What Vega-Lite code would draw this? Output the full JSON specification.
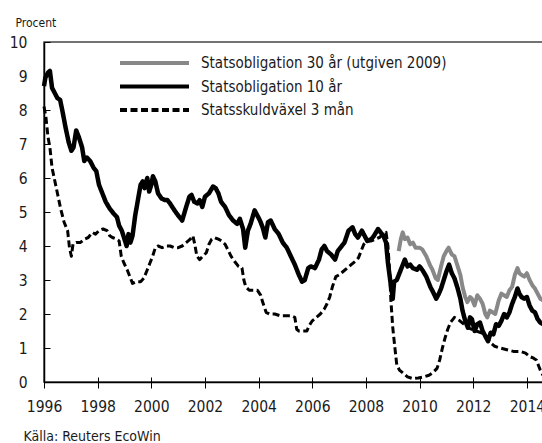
{
  "$schema": "https://vega.github.io/schema/vega-lite/v6.json",
  "width": 499,
  "height": 340,
  "autosize": {"type": "none"},
  "padding": {"left": 44, "top": 42, "right": 0, "bottom": 61},
  "background": "white",
  "config": {
    "font": "DejaVu Sans Condensed",
    "view": {"stroke": "#444", "strokeWidth": 1.5},
    "axis": {"grid": false, "domainColor": "#000", "domainWidth": 1.5, "tickColor": "#000", "tickWidth": 1, "labelColor": "#1a1a1a", "titleColor": "#1a1a1a", "labelFontSize": 15.5, "titleFontWeight": "normal"}
  },
  "datasets": {
    "rates": [
      {"series": "Statsobligation 10 år", "year": 1996.0, "rate": 8.7},
      {"series": "Statsobligation 10 år", "year": 1996.05, "rate": 8.95},
      {"series": "Statsobligation 10 år", "year": 1996.15, "rate": 9.1},
      {"series": "Statsobligation 10 år", "year": 1996.22, "rate": 9.15},
      {"series": "Statsobligation 10 år", "year": 1996.3, "rate": 8.65},
      {"series": "Statsobligation 10 år", "year": 1996.4, "rate": 8.5},
      {"series": "Statsobligation 10 år", "year": 1996.5, "rate": 8.35},
      {"series": "Statsobligation 10 år", "year": 1996.6, "rate": 8.3},
      {"series": "Statsobligation 10 år", "year": 1996.68, "rate": 8.0},
      {"series": "Statsobligation 10 år", "year": 1996.8, "rate": 7.5},
      {"series": "Statsobligation 10 år", "year": 1996.92, "rate": 7.05},
      {"series": "Statsobligation 10 år", "year": 1997.02, "rate": 6.8},
      {"series": "Statsobligation 10 år", "year": 1997.1, "rate": 6.9},
      {"series": "Statsobligation 10 år", "year": 1997.2, "rate": 7.4},
      {"series": "Statsobligation 10 år", "year": 1997.3, "rate": 7.2},
      {"series": "Statsobligation 10 år", "year": 1997.42, "rate": 6.9},
      {"series": "Statsobligation 10 år", "year": 1997.5, "rate": 6.5},
      {"series": "Statsobligation 10 år", "year": 1997.6, "rate": 6.6},
      {"series": "Statsobligation 10 år", "year": 1997.72, "rate": 6.5},
      {"series": "Statsobligation 10 år", "year": 1997.85, "rate": 6.3},
      {"series": "Statsobligation 10 år", "year": 1997.95, "rate": 6.2},
      {"series": "Statsobligation 10 år", "year": 1998.05, "rate": 5.8},
      {"series": "Statsobligation 10 år", "year": 1998.15, "rate": 5.6},
      {"series": "Statsobligation 10 år", "year": 1998.3, "rate": 5.3},
      {"series": "Statsobligation 10 år", "year": 1998.45, "rate": 5.1},
      {"series": "Statsobligation 10 år", "year": 1998.6, "rate": 4.95},
      {"series": "Statsobligation 10 år", "year": 1998.72, "rate": 4.85},
      {"series": "Statsobligation 10 år", "year": 1998.8, "rate": 4.6},
      {"series": "Statsobligation 10 år", "year": 1998.9, "rate": 4.45},
      {"series": "Statsobligation 10 år", "year": 1999.0, "rate": 4.2},
      {"series": "Statsobligation 10 år", "year": 1999.08, "rate": 4.0},
      {"series": "Statsobligation 10 år", "year": 1999.15, "rate": 4.35},
      {"series": "Statsobligation 10 år", "year": 1999.22, "rate": 4.1},
      {"series": "Statsobligation 10 år", "year": 1999.3, "rate": 4.3},
      {"series": "Statsobligation 10 år", "year": 1999.4, "rate": 4.9},
      {"series": "Statsobligation 10 år", "year": 1999.5, "rate": 5.35},
      {"series": "Statsobligation 10 år", "year": 1999.6, "rate": 5.8},
      {"series": "Statsobligation 10 år", "year": 1999.68, "rate": 5.9},
      {"series": "Statsobligation 10 år", "year": 1999.75, "rate": 5.7},
      {"series": "Statsobligation 10 år", "year": 1999.85, "rate": 6.0},
      {"series": "Statsobligation 10 år", "year": 1999.92, "rate": 5.6},
      {"series": "Statsobligation 10 år", "year": 2000.0, "rate": 5.8},
      {"series": "Statsobligation 10 år", "year": 2000.06, "rate": 6.05},
      {"series": "Statsobligation 10 år", "year": 2000.15, "rate": 5.9},
      {"series": "Statsobligation 10 år", "year": 2000.25, "rate": 5.55},
      {"series": "Statsobligation 10 år", "year": 2000.38, "rate": 5.4},
      {"series": "Statsobligation 10 år", "year": 2000.5, "rate": 5.35},
      {"series": "Statsobligation 10 år", "year": 2000.6, "rate": 5.35},
      {"series": "Statsobligation 10 år", "year": 2000.7, "rate": 5.25},
      {"series": "Statsobligation 10 år", "year": 2000.82, "rate": 5.1},
      {"series": "Statsobligation 10 år", "year": 2000.95, "rate": 4.95},
      {"series": "Statsobligation 10 år", "year": 2001.05, "rate": 4.85},
      {"series": "Statsobligation 10 år", "year": 2001.15, "rate": 4.75},
      {"series": "Statsobligation 10 år", "year": 2001.3, "rate": 5.15},
      {"series": "Statsobligation 10 år", "year": 2001.42, "rate": 5.45},
      {"series": "Statsobligation 10 år", "year": 2001.5, "rate": 5.5},
      {"series": "Statsobligation 10 år", "year": 2001.6, "rate": 5.3},
      {"series": "Statsobligation 10 år", "year": 2001.72, "rate": 5.25},
      {"series": "Statsobligation 10 år", "year": 2001.8, "rate": 5.35},
      {"series": "Statsobligation 10 år", "year": 2001.9, "rate": 5.15},
      {"series": "Statsobligation 10 år", "year": 2002.0, "rate": 5.45},
      {"series": "Statsobligation 10 år", "year": 2002.15, "rate": 5.55},
      {"series": "Statsobligation 10 år", "year": 2002.3, "rate": 5.75},
      {"series": "Statsobligation 10 år", "year": 2002.4, "rate": 5.7},
      {"series": "Statsobligation 10 år", "year": 2002.5, "rate": 5.55},
      {"series": "Statsobligation 10 år", "year": 2002.6, "rate": 5.3},
      {"series": "Statsobligation 10 år", "year": 2002.75, "rate": 5.15},
      {"series": "Statsobligation 10 år", "year": 2002.9, "rate": 4.9},
      {"series": "Statsobligation 10 år", "year": 2003.05, "rate": 4.75},
      {"series": "Statsobligation 10 år", "year": 2003.2, "rate": 4.65},
      {"series": "Statsobligation 10 år", "year": 2003.3, "rate": 4.8},
      {"series": "Statsobligation 10 år", "year": 2003.42, "rate": 4.5},
      {"series": "Statsobligation 10 år", "year": 2003.5, "rate": 3.95},
      {"series": "Statsobligation 10 år", "year": 2003.6, "rate": 4.45},
      {"series": "Statsobligation 10 år", "year": 2003.7, "rate": 4.65},
      {"series": "Statsobligation 10 år", "year": 2003.85, "rate": 5.05},
      {"series": "Statsobligation 10 år", "year": 2003.95, "rate": 4.9},
      {"series": "Statsobligation 10 år", "year": 2004.05, "rate": 4.75},
      {"series": "Statsobligation 10 år", "year": 2004.15, "rate": 4.55},
      {"series": "Statsobligation 10 år", "year": 2004.25, "rate": 4.25},
      {"series": "Statsobligation 10 år", "year": 2004.35, "rate": 4.7},
      {"series": "Statsobligation 10 år", "year": 2004.45, "rate": 4.75},
      {"series": "Statsobligation 10 år", "year": 2004.6, "rate": 4.5},
      {"series": "Statsobligation 10 år", "year": 2004.75, "rate": 4.35},
      {"series": "Statsobligation 10 år", "year": 2004.9, "rate": 4.1},
      {"series": "Statsobligation 10 år", "year": 2005.05, "rate": 3.95},
      {"series": "Statsobligation 10 år", "year": 2005.2, "rate": 3.7},
      {"series": "Statsobligation 10 år", "year": 2005.35, "rate": 3.45},
      {"series": "Statsobligation 10 år", "year": 2005.5, "rate": 3.15},
      {"series": "Statsobligation 10 år", "year": 2005.62, "rate": 2.95},
      {"series": "Statsobligation 10 år", "year": 2005.72, "rate": 3.0},
      {"series": "Statsobligation 10 år", "year": 2005.85, "rate": 3.35},
      {"series": "Statsobligation 10 år", "year": 2005.95, "rate": 3.4},
      {"series": "Statsobligation 10 år", "year": 2006.1, "rate": 3.35},
      {"series": "Statsobligation 10 år", "year": 2006.25, "rate": 3.6},
      {"series": "Statsobligation 10 år", "year": 2006.35, "rate": 3.9},
      {"series": "Statsobligation 10 år", "year": 2006.45, "rate": 4.0},
      {"series": "Statsobligation 10 år", "year": 2006.55, "rate": 3.85},
      {"series": "Statsobligation 10 år", "year": 2006.7, "rate": 3.75},
      {"series": "Statsobligation 10 år", "year": 2006.85, "rate": 3.6},
      {"series": "Statsobligation 10 år", "year": 2006.95, "rate": 3.85},
      {"series": "Statsobligation 10 år", "year": 2007.05, "rate": 3.95},
      {"series": "Statsobligation 10 år", "year": 2007.2, "rate": 4.1},
      {"series": "Statsobligation 10 år", "year": 2007.35, "rate": 4.45},
      {"series": "Statsobligation 10 år", "year": 2007.5, "rate": 4.55},
      {"series": "Statsobligation 10 år", "year": 2007.6, "rate": 4.35},
      {"series": "Statsobligation 10 år", "year": 2007.7, "rate": 4.25},
      {"series": "Statsobligation 10 år", "year": 2007.85, "rate": 4.45},
      {"series": "Statsobligation 10 år", "year": 2007.95, "rate": 4.3},
      {"series": "Statsobligation 10 år", "year": 2008.05, "rate": 4.15},
      {"series": "Statsobligation 10 år", "year": 2008.2, "rate": 4.2},
      {"series": "Statsobligation 10 år", "year": 2008.3, "rate": 4.3},
      {"series": "Statsobligation 10 år", "year": 2008.45, "rate": 4.5},
      {"series": "Statsobligation 10 år", "year": 2008.55, "rate": 4.4},
      {"series": "Statsobligation 10 år", "year": 2008.65, "rate": 4.3},
      {"series": "Statsobligation 10 år", "year": 2008.75, "rate": 4.1},
      {"series": "Statsobligation 10 år", "year": 2008.82, "rate": 3.5},
      {"series": "Statsobligation 10 år", "year": 2008.92, "rate": 2.9},
      {"series": "Statsobligation 10 år", "year": 2009.0, "rate": 2.45},
      {"series": "Statsobligation 10 år", "year": 2009.05, "rate": 2.95},
      {"series": "Statsobligation 10 år", "year": 2009.15, "rate": 3.0},
      {"series": "Statsobligation 10 år", "year": 2009.25, "rate": 3.2},
      {"series": "Statsobligation 10 år", "year": 2009.35, "rate": 3.4},
      {"series": "Statsobligation 10 år", "year": 2009.45, "rate": 3.6},
      {"series": "Statsobligation 10 år", "year": 2009.55, "rate": 3.4},
      {"series": "Statsobligation 10 år", "year": 2009.65, "rate": 3.45},
      {"series": "Statsobligation 10 år", "year": 2009.75, "rate": 3.35},
      {"series": "Statsobligation 10 år", "year": 2009.9, "rate": 3.3},
      {"series": "Statsobligation 10 år", "year": 2010.0, "rate": 3.4},
      {"series": "Statsobligation 10 år", "year": 2010.1, "rate": 3.3},
      {"series": "Statsobligation 10 år", "year": 2010.25, "rate": 3.1},
      {"series": "Statsobligation 10 år", "year": 2010.4, "rate": 2.8},
      {"series": "Statsobligation 10 år", "year": 2010.5, "rate": 2.65},
      {"series": "Statsobligation 10 år", "year": 2010.62, "rate": 2.45},
      {"series": "Statsobligation 10 år", "year": 2010.72, "rate": 2.6},
      {"series": "Statsobligation 10 år", "year": 2010.8, "rate": 2.75},
      {"series": "Statsobligation 10 år", "year": 2010.9, "rate": 3.0},
      {"series": "Statsobligation 10 år", "year": 2011.0, "rate": 3.25},
      {"series": "Statsobligation 10 år", "year": 2011.1, "rate": 3.45},
      {"series": "Statsobligation 10 år", "year": 2011.2, "rate": 3.2},
      {"series": "Statsobligation 10 år", "year": 2011.3, "rate": 3.05},
      {"series": "Statsobligation 10 år", "year": 2011.42, "rate": 2.75},
      {"series": "Statsobligation 10 år", "year": 2011.52, "rate": 2.45},
      {"series": "Statsobligation 10 år", "year": 2011.6, "rate": 2.1},
      {"series": "Statsobligation 10 år", "year": 2011.7, "rate": 1.8},
      {"series": "Statsobligation 10 år", "year": 2011.8, "rate": 1.6},
      {"series": "Statsobligation 10 år", "year": 2011.88, "rate": 1.9},
      {"series": "Statsobligation 10 år", "year": 2011.95, "rate": 1.85},
      {"series": "Statsobligation 10 år", "year": 2012.05, "rate": 1.5},
      {"series": "Statsobligation 10 år", "year": 2012.15, "rate": 1.7},
      {"series": "Statsobligation 10 år", "year": 2012.25, "rate": 1.75},
      {"series": "Statsobligation 10 år", "year": 2012.35, "rate": 1.5},
      {"series": "Statsobligation 10 år", "year": 2012.45, "rate": 1.35},
      {"series": "Statsobligation 10 år", "year": 2012.55, "rate": 1.2},
      {"series": "Statsobligation 10 år", "year": 2012.65, "rate": 1.45},
      {"series": "Statsobligation 10 år", "year": 2012.75, "rate": 1.4},
      {"series": "Statsobligation 10 år", "year": 2012.85, "rate": 1.7},
      {"series": "Statsobligation 10 år", "year": 2012.95, "rate": 1.65},
      {"series": "Statsobligation 10 år", "year": 2013.05, "rate": 1.8},
      {"series": "Statsobligation 10 år", "year": 2013.15, "rate": 2.0},
      {"series": "Statsobligation 10 år", "year": 2013.25, "rate": 1.9},
      {"series": "Statsobligation 10 år", "year": 2013.35, "rate": 2.05},
      {"series": "Statsobligation 10 år", "year": 2013.45, "rate": 2.3},
      {"series": "Statsobligation 10 år", "year": 2013.55, "rate": 2.5},
      {"series": "Statsobligation 10 år", "year": 2013.65, "rate": 2.75},
      {"series": "Statsobligation 10 år", "year": 2013.72, "rate": 2.6},
      {"series": "Statsobligation 10 år", "year": 2013.8, "rate": 2.5},
      {"series": "Statsobligation 10 år", "year": 2013.9, "rate": 2.45},
      {"series": "Statsobligation 10 år", "year": 2014.0, "rate": 2.5},
      {"series": "Statsobligation 10 år", "year": 2014.1, "rate": 2.25},
      {"series": "Statsobligation 10 år", "year": 2014.2, "rate": 2.1},
      {"series": "Statsobligation 10 år", "year": 2014.3, "rate": 2.05},
      {"series": "Statsobligation 10 år", "year": 2014.4, "rate": 1.85},
      {"series": "Statsobligation 10 år", "year": 2014.5, "rate": 1.75},
      {"series": "Statsobligation 10 år", "year": 2014.6, "rate": 1.7},

      {"series": "Statsobligation 30 år (utgiven 2009)", "year": 2009.22, "rate": 3.85},
      {"series": "Statsobligation 30 år (utgiven 2009)", "year": 2009.3, "rate": 4.2},
      {"series": "Statsobligation 30 år (utgiven 2009)", "year": 2009.37, "rate": 4.4},
      {"series": "Statsobligation 30 år (utgiven 2009)", "year": 2009.45, "rate": 4.2},
      {"series": "Statsobligation 30 år (utgiven 2009)", "year": 2009.55, "rate": 4.25},
      {"series": "Statsobligation 30 år (utgiven 2009)", "year": 2009.65, "rate": 4.05},
      {"series": "Statsobligation 30 år (utgiven 2009)", "year": 2009.75, "rate": 4.1},
      {"series": "Statsobligation 30 år (utgiven 2009)", "year": 2009.85, "rate": 3.95},
      {"series": "Statsobligation 30 år (utgiven 2009)", "year": 2010.0, "rate": 3.95},
      {"series": "Statsobligation 30 år (utgiven 2009)", "year": 2010.1, "rate": 3.9},
      {"series": "Statsobligation 30 år (utgiven 2009)", "year": 2010.25, "rate": 3.7},
      {"series": "Statsobligation 30 år (utgiven 2009)", "year": 2010.38, "rate": 3.45},
      {"series": "Statsobligation 30 år (utgiven 2009)", "year": 2010.48, "rate": 3.3},
      {"series": "Statsobligation 30 år (utgiven 2009)", "year": 2010.6, "rate": 3.05},
      {"series": "Statsobligation 30 år (utgiven 2009)", "year": 2010.68, "rate": 3.0},
      {"series": "Statsobligation 30 år (utgiven 2009)", "year": 2010.8, "rate": 3.4},
      {"series": "Statsobligation 30 år (utgiven 2009)", "year": 2010.9, "rate": 3.7},
      {"series": "Statsobligation 30 år (utgiven 2009)", "year": 2011.0, "rate": 3.85},
      {"series": "Statsobligation 30 år (utgiven 2009)", "year": 2011.08, "rate": 3.95},
      {"series": "Statsobligation 30 år (utgiven 2009)", "year": 2011.2, "rate": 3.75},
      {"series": "Statsobligation 30 år (utgiven 2009)", "year": 2011.3, "rate": 3.7},
      {"series": "Statsobligation 30 år (utgiven 2009)", "year": 2011.42, "rate": 3.4},
      {"series": "Statsobligation 30 år (utgiven 2009)", "year": 2011.52, "rate": 3.15},
      {"series": "Statsobligation 30 år (utgiven 2009)", "year": 2011.6, "rate": 2.8},
      {"series": "Statsobligation 30 år (utgiven 2009)", "year": 2011.7, "rate": 2.5},
      {"series": "Statsobligation 30 år (utgiven 2009)", "year": 2011.78, "rate": 2.35},
      {"series": "Statsobligation 30 år (utgiven 2009)", "year": 2011.88, "rate": 2.5},
      {"series": "Statsobligation 30 år (utgiven 2009)", "year": 2011.95, "rate": 2.45},
      {"series": "Statsobligation 30 år (utgiven 2009)", "year": 2012.05, "rate": 2.25},
      {"series": "Statsobligation 30 år (utgiven 2009)", "year": 2012.15, "rate": 2.55},
      {"series": "Statsobligation 30 år (utgiven 2009)", "year": 2012.25, "rate": 2.45},
      {"series": "Statsobligation 30 år (utgiven 2009)", "year": 2012.35, "rate": 2.3},
      {"series": "Statsobligation 30 år (utgiven 2009)", "year": 2012.45, "rate": 2.0},
      {"series": "Statsobligation 30 år (utgiven 2009)", "year": 2012.52, "rate": 1.9},
      {"series": "Statsobligation 30 år (utgiven 2009)", "year": 2012.62, "rate": 2.1},
      {"series": "Statsobligation 30 år (utgiven 2009)", "year": 2012.72, "rate": 2.05},
      {"series": "Statsobligation 30 år (utgiven 2009)", "year": 2012.82, "rate": 2.0},
      {"series": "Statsobligation 30 år (utgiven 2009)", "year": 2012.95, "rate": 2.4},
      {"series": "Statsobligation 30 år (utgiven 2009)", "year": 2013.05, "rate": 2.6},
      {"series": "Statsobligation 30 år (utgiven 2009)", "year": 2013.15, "rate": 2.55},
      {"series": "Statsobligation 30 år (utgiven 2009)", "year": 2013.25, "rate": 2.5},
      {"series": "Statsobligation 30 år (utgiven 2009)", "year": 2013.35, "rate": 2.7},
      {"series": "Statsobligation 30 år (utgiven 2009)", "year": 2013.45, "rate": 2.8},
      {"series": "Statsobligation 30 år (utgiven 2009)", "year": 2013.55, "rate": 3.15},
      {"series": "Statsobligation 30 år (utgiven 2009)", "year": 2013.65, "rate": 3.35},
      {"series": "Statsobligation 30 år (utgiven 2009)", "year": 2013.72, "rate": 3.2},
      {"series": "Statsobligation 30 år (utgiven 2009)", "year": 2013.8, "rate": 3.15},
      {"series": "Statsobligation 30 år (utgiven 2009)", "year": 2013.9, "rate": 3.1},
      {"series": "Statsobligation 30 år (utgiven 2009)", "year": 2014.0, "rate": 3.2},
      {"series": "Statsobligation 30 år (utgiven 2009)", "year": 2014.1, "rate": 3.0},
      {"series": "Statsobligation 30 år (utgiven 2009)", "year": 2014.2, "rate": 2.85},
      {"series": "Statsobligation 30 år (utgiven 2009)", "year": 2014.3, "rate": 2.75},
      {"series": "Statsobligation 30 år (utgiven 2009)", "year": 2014.4, "rate": 2.6},
      {"series": "Statsobligation 30 år (utgiven 2009)", "year": 2014.5, "rate": 2.45},
      {"series": "Statsobligation 30 år (utgiven 2009)", "year": 2014.6, "rate": 2.4},

      {"series": "Statsskuldväxel 3 mån", "year": 1996.0, "rate": 8.1},
      {"series": "Statsskuldväxel 3 mån", "year": 1996.07, "rate": 7.8},
      {"series": "Statsskuldväxel 3 mån", "year": 1996.15, "rate": 7.2},
      {"series": "Statsskuldväxel 3 mån", "year": 1996.22, "rate": 6.9},
      {"series": "Statsskuldväxel 3 mån", "year": 1996.3, "rate": 6.3},
      {"series": "Statsskuldväxel 3 mån", "year": 1996.38, "rate": 6.0},
      {"series": "Statsskuldväxel 3 mån", "year": 1996.5, "rate": 5.55},
      {"series": "Statsskuldväxel 3 mån", "year": 1996.62, "rate": 5.1},
      {"series": "Statsskuldväxel 3 mån", "year": 1996.75, "rate": 4.7},
      {"series": "Statsskuldväxel 3 mån", "year": 1996.88, "rate": 4.45},
      {"series": "Statsskuldväxel 3 mån", "year": 1996.95, "rate": 3.95},
      {"series": "Statsskuldväxel 3 mån", "year": 1997.02, "rate": 3.7},
      {"series": "Statsskuldväxel 3 mån", "year": 1997.08, "rate": 4.05},
      {"series": "Statsskuldväxel 3 mån", "year": 1997.2, "rate": 4.1},
      {"series": "Statsskuldväxel 3 mån", "year": 1997.35, "rate": 4.1},
      {"series": "Statsskuldväxel 3 mån", "year": 1997.5, "rate": 4.2},
      {"series": "Statsskuldväxel 3 mån", "year": 1997.65, "rate": 4.25},
      {"series": "Statsskuldväxel 3 mån", "year": 1997.8, "rate": 4.4},
      {"series": "Statsskuldväxel 3 mån", "year": 1997.92, "rate": 4.35},
      {"series": "Statsskuldväxel 3 mån", "year": 1998.05, "rate": 4.45},
      {"series": "Statsskuldväxel 3 mån", "year": 1998.2, "rate": 4.5},
      {"series": "Statsskuldväxel 3 mån", "year": 1998.35, "rate": 4.45},
      {"series": "Statsskuldväxel 3 mån", "year": 1998.45, "rate": 4.3},
      {"series": "Statsskuldväxel 3 mån", "year": 1998.55, "rate": 4.25},
      {"series": "Statsskuldväxel 3 mån", "year": 1998.7, "rate": 4.2},
      {"series": "Statsskuldväxel 3 mån", "year": 1998.8, "rate": 4.15},
      {"series": "Statsskuldväxel 3 mån", "year": 1998.88, "rate": 3.7},
      {"series": "Statsskuldväxel 3 mån", "year": 1998.98, "rate": 3.5},
      {"series": "Statsskuldväxel 3 mån", "year": 1999.1, "rate": 3.3},
      {"series": "Statsskuldväxel 3 mån", "year": 1999.2, "rate": 3.1},
      {"series": "Statsskuldväxel 3 mån", "year": 1999.3, "rate": 2.9},
      {"series": "Statsskuldväxel 3 mån", "year": 1999.45, "rate": 2.95},
      {"series": "Statsskuldväxel 3 mån", "year": 1999.6, "rate": 2.95},
      {"series": "Statsskuldväxel 3 mån", "year": 1999.72, "rate": 3.05},
      {"series": "Statsskuldväxel 3 mån", "year": 1999.85, "rate": 3.3},
      {"series": "Statsskuldväxel 3 mån", "year": 1999.95, "rate": 3.5},
      {"series": "Statsskuldväxel 3 mån", "year": 2000.05, "rate": 3.7},
      {"series": "Statsskuldväxel 3 mån", "year": 2000.15, "rate": 3.95},
      {"series": "Statsskuldväxel 3 mån", "year": 2000.25, "rate": 4.0},
      {"series": "Statsskuldväxel 3 mån", "year": 2000.4, "rate": 3.95},
      {"series": "Statsskuldväxel 3 mån", "year": 2000.55, "rate": 4.0},
      {"series": "Statsskuldväxel 3 mån", "year": 2000.7, "rate": 4.0},
      {"series": "Statsskuldväxel 3 mån", "year": 2000.85, "rate": 3.95},
      {"series": "Statsskuldväxel 3 mån", "year": 2001.0, "rate": 3.95},
      {"series": "Statsskuldväxel 3 mån", "year": 2001.15, "rate": 4.0},
      {"series": "Statsskuldväxel 3 mån", "year": 2001.3, "rate": 4.1},
      {"series": "Statsskuldväxel 3 mån", "year": 2001.45, "rate": 4.2},
      {"series": "Statsskuldväxel 3 mån", "year": 2001.55, "rate": 4.3},
      {"series": "Statsskuldväxel 3 mån", "year": 2001.62, "rate": 4.05},
      {"series": "Statsskuldväxel 3 mån", "year": 2001.7, "rate": 3.7},
      {"series": "Statsskuldväxel 3 mån", "year": 2001.8, "rate": 3.6},
      {"series": "Statsskuldväxel 3 mån", "year": 2001.92, "rate": 3.7},
      {"series": "Statsskuldväxel 3 mån", "year": 2002.05, "rate": 3.8},
      {"series": "Statsskuldväxel 3 mån", "year": 2002.15, "rate": 4.05},
      {"series": "Statsskuldväxel 3 mån", "year": 2002.25, "rate": 4.2},
      {"series": "Statsskuldväxel 3 mån", "year": 2002.35, "rate": 4.25},
      {"series": "Statsskuldväxel 3 mån", "year": 2002.5, "rate": 4.2},
      {"series": "Statsskuldväxel 3 mån", "year": 2002.62, "rate": 4.15},
      {"series": "Statsskuldväxel 3 mån", "year": 2002.75, "rate": 4.05},
      {"series": "Statsskuldväxel 3 mån", "year": 2002.88, "rate": 3.85},
      {"series": "Statsskuldväxel 3 mån", "year": 2002.97, "rate": 3.7},
      {"series": "Statsskuldväxel 3 mån", "year": 2003.1, "rate": 3.55},
      {"series": "Statsskuldväxel 3 mån", "year": 2003.25, "rate": 3.4},
      {"series": "Statsskuldväxel 3 mån", "year": 2003.38, "rate": 3.35},
      {"series": "Statsskuldväxel 3 mån", "year": 2003.45, "rate": 3.0},
      {"series": "Statsskuldväxel 3 mån", "year": 2003.52, "rate": 2.8},
      {"series": "Statsskuldväxel 3 mån", "year": 2003.65, "rate": 2.7},
      {"series": "Statsskuldväxel 3 mån", "year": 2003.8, "rate": 2.7},
      {"series": "Statsskuldväxel 3 mån", "year": 2003.95, "rate": 2.7},
      {"series": "Statsskuldväxel 3 mån", "year": 2004.08, "rate": 2.55},
      {"series": "Statsskuldväxel 3 mån", "year": 2004.15, "rate": 2.35},
      {"series": "Statsskuldväxel 3 mån", "year": 2004.28, "rate": 2.05},
      {"series": "Statsskuldväxel 3 mån", "year": 2004.4, "rate": 2.0},
      {"series": "Statsskuldväxel 3 mån", "year": 2004.6, "rate": 2.0},
      {"series": "Statsskuldväxel 3 mån", "year": 2004.8, "rate": 1.95},
      {"series": "Statsskuldväxel 3 mån", "year": 2005.0, "rate": 1.95},
      {"series": "Statsskuldväxel 3 mån", "year": 2005.2, "rate": 1.95},
      {"series": "Statsskuldväxel 3 mån", "year": 2005.35, "rate": 1.9},
      {"series": "Statsskuldväxel 3 mån", "year": 2005.42, "rate": 1.55},
      {"series": "Statsskuldväxel 3 mån", "year": 2005.5, "rate": 1.5},
      {"series": "Statsskuldväxel 3 mån", "year": 2005.65, "rate": 1.5},
      {"series": "Statsskuldväxel 3 mån", "year": 2005.8, "rate": 1.5},
      {"series": "Statsskuldväxel 3 mån", "year": 2005.88, "rate": 1.65},
      {"series": "Statsskuldväxel 3 mån", "year": 2006.0, "rate": 1.8},
      {"series": "Statsskuldväxel 3 mån", "year": 2006.15, "rate": 1.9},
      {"series": "Statsskuldväxel 3 mån", "year": 2006.3, "rate": 2.0},
      {"series": "Statsskuldväxel 3 mån", "year": 2006.45, "rate": 2.15},
      {"series": "Statsskuldväxel 3 mån", "year": 2006.55, "rate": 2.3},
      {"series": "Statsskuldväxel 3 mån", "year": 2006.65, "rate": 2.5},
      {"series": "Statsskuldväxel 3 mån", "year": 2006.75, "rate": 2.8},
      {"series": "Statsskuldväxel 3 mån", "year": 2006.88, "rate": 3.1},
      {"series": "Statsskuldväxel 3 mån", "year": 2007.0, "rate": 3.15},
      {"series": "Statsskuldväxel 3 mån", "year": 2007.15, "rate": 3.25},
      {"series": "Statsskuldväxel 3 mån", "year": 2007.3, "rate": 3.35},
      {"series": "Statsskuldväxel 3 mån", "year": 2007.45, "rate": 3.45},
      {"series": "Statsskuldväxel 3 mån", "year": 2007.6, "rate": 3.55},
      {"series": "Statsskuldväxel 3 mån", "year": 2007.72, "rate": 3.65},
      {"series": "Statsskuldväxel 3 mån", "year": 2007.82, "rate": 3.85},
      {"series": "Statsskuldväxel 3 mån", "year": 2007.92, "rate": 4.05},
      {"series": "Statsskuldväxel 3 mån", "year": 2008.05, "rate": 4.15},
      {"series": "Statsskuldväxel 3 mån", "year": 2008.2, "rate": 4.15},
      {"series": "Statsskuldväxel 3 mån", "year": 2008.35, "rate": 4.2},
      {"series": "Statsskuldväxel 3 mån", "year": 2008.5, "rate": 4.25},
      {"series": "Statsskuldväxel 3 mån", "year": 2008.65, "rate": 4.35},
      {"series": "Statsskuldväxel 3 mån", "year": 2008.75, "rate": 4.4},
      {"series": "Statsskuldväxel 3 mån", "year": 2008.82, "rate": 4.0},
      {"series": "Statsskuldväxel 3 mån", "year": 2008.88, "rate": 3.3},
      {"series": "Statsskuldväxel 3 mån", "year": 2008.93, "rate": 2.4},
      {"series": "Statsskuldväxel 3 mån", "year": 2009.0, "rate": 1.6},
      {"series": "Statsskuldväxel 3 mån", "year": 2009.08, "rate": 1.0},
      {"series": "Statsskuldväxel 3 mån", "year": 2009.15, "rate": 0.5},
      {"series": "Statsskuldväxel 3 mån", "year": 2009.25, "rate": 0.35},
      {"series": "Statsskuldväxel 3 mån", "year": 2009.4, "rate": 0.25},
      {"series": "Statsskuldväxel 3 mån", "year": 2009.55, "rate": 0.15},
      {"series": "Statsskuldväxel 3 mån", "year": 2009.75, "rate": 0.1},
      {"series": "Statsskuldväxel 3 mån", "year": 2009.95, "rate": 0.12},
      {"series": "Statsskuldväxel 3 mån", "year": 2010.15, "rate": 0.15},
      {"series": "Statsskuldväxel 3 mån", "year": 2010.35, "rate": 0.2},
      {"series": "Statsskuldväxel 3 mån", "year": 2010.5, "rate": 0.28},
      {"series": "Statsskuldväxel 3 mån", "year": 2010.65, "rate": 0.4},
      {"series": "Statsskuldväxel 3 mån", "year": 2010.75, "rate": 0.65},
      {"series": "Statsskuldväxel 3 mån", "year": 2010.85, "rate": 1.0},
      {"series": "Statsskuldväxel 3 mån", "year": 2010.95, "rate": 1.3},
      {"series": "Statsskuldväxel 3 mån", "year": 2011.05, "rate": 1.55},
      {"series": "Statsskuldväxel 3 mån", "year": 2011.15, "rate": 1.75},
      {"series": "Statsskuldväxel 3 mån", "year": 2011.3, "rate": 1.9},
      {"series": "Statsskuldväxel 3 mån", "year": 2011.4, "rate": 1.85},
      {"series": "Statsskuldväxel 3 mån", "year": 2011.5, "rate": 1.8},
      {"series": "Statsskuldväxel 3 mån", "year": 2011.65, "rate": 1.7},
      {"series": "Statsskuldväxel 3 mån", "year": 2011.8, "rate": 1.6},
      {"series": "Statsskuldväxel 3 mån", "year": 2011.95, "rate": 1.55},
      {"series": "Statsskuldväxel 3 mån", "year": 2012.1, "rate": 1.5},
      {"series": "Statsskuldväxel 3 mån", "year": 2012.3, "rate": 1.45},
      {"series": "Statsskuldväxel 3 mån", "year": 2012.5, "rate": 1.3},
      {"series": "Statsskuldväxel 3 mån", "year": 2012.65, "rate": 1.15},
      {"series": "Statsskuldväxel 3 mån", "year": 2012.8, "rate": 1.05},
      {"series": "Statsskuldväxel 3 mån", "year": 2013.0, "rate": 1.0},
      {"series": "Statsskuldväxel 3 mån", "year": 2013.25, "rate": 0.95},
      {"series": "Statsskuldväxel 3 mån", "year": 2013.5, "rate": 0.9},
      {"series": "Statsskuldväxel 3 mån", "year": 2013.75, "rate": 0.9},
      {"series": "Statsskuldväxel 3 mån", "year": 2013.95, "rate": 0.85},
      {"series": "Statsskuldväxel 3 mån", "year": 2014.1, "rate": 0.75},
      {"series": "Statsskuldväxel 3 mån", "year": 2014.25, "rate": 0.7},
      {"series": "Statsskuldväxel 3 mån", "year": 2014.35, "rate": 0.65},
      {"series": "Statsskuldväxel 3 mån", "year": 2014.45, "rate": 0.45},
      {"series": "Statsskuldväxel 3 mån", "year": 2014.5, "rate": 0.35},
      {"series": "Statsskuldväxel 3 mån", "year": 2014.6, "rate": 0.2}
    ]
  },
  "data": {"name": "rates"},
  "encoding": {
    "y": {
      "field": "rate", "type": "quantitative",
      "scale": {"domain": [0, 10], "nice": false, "zero": true},
      "axis": {
        "values": [0, 1, 2, 3, 4, 5, 6, 7, 8, 9, 10],
        "tickSize": -6, "labelPadding": 23, "labelFontSize": 15.5,
        "title": "Procent", "titleAngle": 0, "titleAlign": "left", "titleBaseline": "alphabetic",
        "titleX": -29, "titleY": -16, "titleFontSize": 12
      }
    },
    "color": {
      "field": "series", "type": "nominal",
      "scale": {"domain": ["Statsobligation 30 år (utgiven 2009)", "Statsobligation 10 år", "Statsskuldväxel 3 mån"], "range": ["#888888", "#000000", "#000000"]},
      "legend": {"title": null, "orient": "none", "legendX": 64, "legendY": 9, "symbolType": "M0,0H6.9", "symbolSize": 400, "symbolStrokeWidth": 4, "labelFontSize": 15, "labelOffset": 69, "rowPadding": 3.5, "labelColor": "#1a1a1a", "padding": 0, "labelLimit": 400}
    },
    "strokeDash": {
      "field": "series", "type": "nominal",
      "scale": {"domain": ["Statsobligation 30 år (utgiven 2009)", "Statsobligation 10 år", "Statsskuldväxel 3 mån"], "range": [[1, 0], [1, 0], [7, 3.5]]},
      "legend": {"title": null, "orient": "none", "legendX": 64, "legendY": 9, "symbolType": "M0,0H6.9", "symbolSize": 400, "symbolStrokeWidth": 4, "labelFontSize": 15, "labelOffset": 69, "rowPadding": 3.5, "labelColor": "#1a1a1a", "padding": 0, "labelLimit": 400}
    }
  },
  "layer": [
    {
      "transform": [{"filter": "datum.series === 'Statsobligation 30 år (utgiven 2009)'"}],
      "mark": {"type": "line", "strokeWidth": 4, "strokeJoin": "round"},
      "encoding": {
        "x": {
          "field": "year", "type": "quantitative",
          "scale": {"domain": [1996, 2014.6], "nice": false, "zero": false},
          "axis": {"orient": "bottom", "values": [1996, 1998, 2000, 2002, 2004, 2006, 2008, 2010, 2012, 2014], "tickSize": -5, "labels": false, "domain": false, "title": null}
        }
      }
    },
    {
      "transform": [{"filter": "datum.series === 'Statsskuldväxel 3 mån'"}],
      "mark": {"type": "line", "strokeWidth": 3, "strokeJoin": "round"},
      "encoding": {
        "x": {"field": "year", "type": "quantitative", "scale": {"domain": [1996, 2014.6], "nice": false, "zero": false}, "axis": null}
      }
    },
    {
      "transform": [{"filter": "datum.series === 'Statsobligation 10 år'"}],
      "mark": {"type": "line", "strokeWidth": 4.5, "strokeJoin": "round"},
      "encoding": {
        "x": {
          "field": "year", "type": "quantitative",
          "scale": {"domain": [1996, 2014.6], "nice": false, "zero": false},
          "axis": {
            "orient": "bottom", "values": [1996, 1998, 2000, 2002, 2004, 2006, 2008, 2010, 2012, 2014], "format": "d",
            "tickSize": 6, "labelPadding": 11, "labelFontSize": 15.5, "labelFlush": false,
            "title": "Källa: Reuters EcoWin", "titleFontSize": 14, "titleAnchor": "start", "titleAlign": "left",
            "titleBaseline": "alphabetic", "titleX": -21, "titleY": 58
          }
        }
      }
    }
  ],
  "resolve": {"axis": {"x": "independent"}}
}
